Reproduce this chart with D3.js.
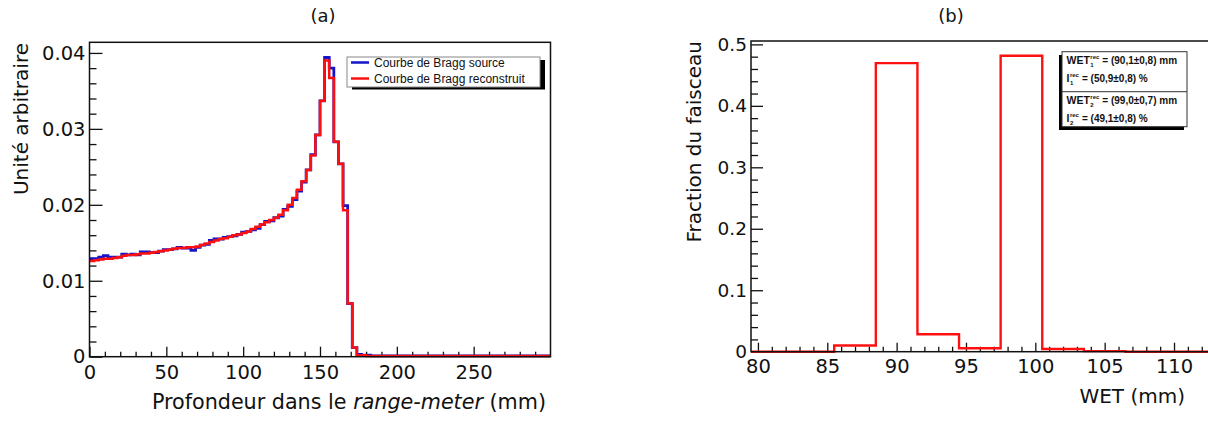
<!DOCTYPE html>
<html><head><meta charset="utf-8">
<script src="https://cdn.jsdelivr.net/npm/d3@7"></script>
<style>
body{margin:0;background:#fff;}
svg{display:block;font-family:"DejaVu Sans",sans-serif;}
text{white-space:pre;}
</style>
</head><body>
<svg id="c" width="1208" height="423"></svg>
<script>
// ---------- Data: panel (a) ----------
const depthBinStart = 0;      // mm
const depthBinWidth = 3;      // mm
const braggSource = [
 0.0129,0.0129,0.0131,0.0133,0.0131,0.0131,0.0131,0.0135,0.0134,0.0135,
 0.0134,0.0138,0.0138,0.0137,0.0137,0.0139,0.0141,0.0141,0.0142,0.0144,
 0.0143,0.0143,0.0140,0.0144,0.0147,0.0148,0.0153,0.0155,0.0155,0.0157,
 0.0158,0.0159,0.0161,0.0164,0.0165,0.0167,0.0169,0.0174,0.0178,0.0179,
 0.0183,0.0185,0.0194,0.0198,0.0207,0.0218,0.0230,0.0246,0.0266,0.0292,
 0.0337,0.0394,0.0380,0.0283,0.0254,0.0199,0.0070,0.0012,0.0003,0.0002,
 0.0002,0.0001,0.0001,0.0001,0.0001,0.0001,0.0001,0.0001,0.0001,0.0001,
 0.0001,0.0001,0.0001,0.0001,0.0001,0.0001,0.0001,0.0001,0.0001,0.0001,
 0.0001,0.0001,0.0001,0.0001,0.0001,0.0001,0.0001,0.0001,0.0001,0.0001,
 0.0001,0.0001,0.0001,0.0001,0.0001,0.0001,0.0001,0.0001,0.0001,0.0001
];
const braggReconstruit = [
 0.0126,0.0127,0.0128,0.0129,0.0129,0.0130,0.0131,0.0133,0.0134,0.0134,
 0.0135,0.0136,0.0136,0.0137,0.0138,0.0139,0.0140,0.0141,0.0142,0.0143,
 0.0143,0.0144,0.0144,0.0145,0.0147,0.0149,0.0151,0.0153,0.0155,0.0156,
 0.0158,0.0160,0.0161,0.0163,0.0165,0.0168,0.0171,0.0174,0.0177,0.0180,
 0.0183,0.0187,0.0193,0.0200,0.0209,0.0220,0.0231,0.0246,0.0265,0.0292,
 0.0337,0.0390,0.0367,0.0283,0.0254,0.0193,0.0070,0.0012,0.0002,0.0002,
 0.0001,0.0001,0.0001,0.0001,0.0001,0.0001,0.0001,0.0001,0.0001,0.0001,
 0.0001,0.0001,0.0001,0.0001,0.0001,0.0001,0.0001,0.0001,0.0001,0.0001,
 0.0001,0.0001,0.0001,0.0001,0.0001,0.0001,0.0001,0.0001,0.0001,0.0001,
 0.0001,0.0001,0.0001,0.0001,0.0001,0.0001,0.0001,0.0001,0.0001,0.0001
];
const xTicksA = [0,50,100,150,200,250];
const xMinorA = [10,20,30,40,60,70,80,90,110,120,130,140,160,170,180,190,210,220,230,240,260,270,280,290];
const yTicksA = [0,0.01,0.02,0.03,0.04];
const yTickLabelsA = ["0","0.01","0.02","0.03","0.04"];
const yMinorA = [0.002,0.004,0.006,0.008,0.012,0.014,0.016,0.018,0.022,0.024,0.026,0.028,0.032,0.034,0.036,0.038];
const legendA = ["Courbe de Bragg source","Courbe de Bragg reconstruit"];

// ---------- Data: panel (b) ----------
const wetBinStart = 79.5;   // mm
const wetBinWidth = 3;      // mm
const wetFraction = [0, 0, 0.0100, 0.4695, 0.0285, 0.0055, 0.4814, 0.0045, 0.0010, 0, 0, 0];
const xTicksB = [80,85,90,95,100,105,110];
const xMinorB = [81,82,83,84,86,87,88,89,91,92,93,94,96,97,98,99,101,102,103,104,106,107,108,109,111,112,113,114];
const yTicksB = [0,0.1,0.2,0.3,0.4,0.5];
const yTickLabelsB = ["0","0.1","0.2","0.3","0.4","0.5"];
const yMinorB = [0.02,0.04,0.06,0.08,0.12,0.14,0.16,0.18,0.22,0.24,0.26,0.28,0.32,0.34,0.36,0.38,0.42,0.44,0.46,0.48];

const svg = d3.select("#c");
svg.append("rect").attr("width",1208).attr("height",423).attr("fill","#fff");

function stepPoints(start, width, vals){
  const pts = vals.map((v,i)=>[start + i*width, v]);
  pts.push([start + vals.length*width, vals[vals.length-1]]);
  return pts;
}

function axes(g, x, y, o){
  const xa = g.append("g").attr("transform",`translate(0,${y.range()[0]})`)
    .call(d3.axisBottom(x).tickValues(o.xTicks).tickSizeInner(-o.xMaj).tickSizeOuter(0).tickPadding(o.xPad).tickFormat(d3.format("d")));
  const xm = g.append("g").attr("transform",`translate(0,${y.range()[0]})`)
    .call(d3.axisBottom(x).tickValues(o.xMinor).tickSizeInner(-o.xMin).tickSizeOuter(0).tickFormat(""));
  const ya = g.append("g").attr("transform",`translate(${x.range()[0]},0)`)
    .call(d3.axisLeft(y).tickValues(o.yTicks).tickSizeInner(-o.yMaj).tickSizeOuter(0).tickPadding(o.yPad).tickFormat((d,i)=>o.yLabels[i]));
  const ym = g.append("g").attr("transform",`translate(${x.range()[0]},0)`)
    .call(d3.axisLeft(y).tickValues(o.yMinor).tickSizeInner(-o.yMin).tickSizeOuter(0).tickFormat(""));
  [xa,xm,ya,ym].forEach(a=>{
    a.select(".domain").remove();
    a.selectAll("line").attr("stroke","#111").attr("stroke-width",1.3);
    a.selectAll("text").attr("font-family","DejaVu Sans").attr("fill","#111");
  });
  xa.selectAll("text").attr("font-size",o.xFont);
  ya.selectAll("text").attr("font-size",o.yFont);
}

// ================= Panel (a) =================
const xA = d3.scaleLinear().domain([0,300]).range([89.5,550.5]);
const yA = d3.scaleLinear().domain([0,0.0414]).range([356.7,42.3]);
const gA = svg.append("g");

axes(gA, xA, yA, {xTicks:xTicksA, xMinor:xMinorA, yTicks:yTicksA, yLabels:yTickLabelsA, yMinor:yMinorA,
  xMaj:10, xMin:5, yMaj:13, yMin:7, xPad:8, yPad:4, xFont:19.5, yFont:19.5});

const lineA = d3.line().x(d=>xA(d[0])).y(d=>yA(d[1])).curve(d3.curveStepAfter);
gA.append("path").attr("d", lineA(stepPoints(depthBinStart, depthBinWidth, braggSource)))
  .attr("fill","none").attr("stroke","#1414c8").attr("stroke-width",2.8);
gA.append("path").attr("d", lineA(stepPoints(depthBinStart, depthBinWidth, braggReconstruit)))
  .attr("fill","none").attr("stroke","#ff1010").attr("stroke-width",2.5);

gA.append("rect").attr("x",xA.range()[0]).attr("y",yA.range()[1])
  .attr("width",xA.range()[1]-xA.range()[0]).attr("height",yA.range()[0]-yA.range()[1])
  .attr("fill","none").attr("stroke","#111").attr("stroke-width",1.5);

// legend (a)
const lgA = gA.append("g");
lgA.append("rect").attr("x",352).attr("y",60).attr("width",193).attr("height",29.5).attr("fill","#000");
lgA.append("rect").attr("x",347).attr("y",57).attr("width",193).attr("height",30).attr("fill","#fff").attr("stroke","#888").attr("stroke-width",1);
const legCol = ["#1414c8","#ff1010"];
legendA.forEach((t,i)=>{
  const yy = 62.5 + i*16;
  lgA.append("line").attr("x1",351).attr("x2",369).attr("y1",yy).attr("y2",yy).attr("stroke",legCol[i]).attr("stroke-width",2.5);
  lgA.append("text").attr("x",374).attr("y",yy+4.3).attr("font-family","Liberation Sans, Arial, sans-serif")
    .attr("font-size",12).attr("fill","#111").text(t);
});

// titles (a)
svg.append("text").attr("x",323).attr("y",22).attr("text-anchor","middle").attr("font-size",18).attr("fill","#111").text("(a)");
svg.append("text").attr("transform","translate(28,43) rotate(-90)").attr("text-anchor","end").attr("font-size",20).attr("fill","#111").text("Unité arbitraire");
const xtA = svg.append("text").attr("x",546).attr("y",409).attr("text-anchor","end").attr("font-size",20.7).attr("fill","#111");
xtA.append("tspan").text("Profondeur dans le ");
xtA.append("tspan").attr("font-style","italic").text("range-meter");
xtA.append("tspan").text(" (mm)");

// ================= Panel (b) =================
const xB = d3.scaleLinear().domain([79.5,115.5]).range([751,1250.3]);
const yB = d3.scaleLinear().domain([0,0.5055]).range([351.7,41]);
const gB = svg.append("g");

axes(gB, xB, yB, {xTicks:xTicksB, xMinor:xMinorB, yTicks:yTicksB, yLabels:yTickLabelsB, yMinor:yMinorB,
  xMaj:9, xMin:5, yMaj:12, yMin:7, xPad:7.5, yPad:4, xFont:19.5, yFont:18.5});

const lineB = d3.line().x(d=>xB(d[0])).y(d=>yB(d[1])).curve(d3.curveStepAfter);
gB.append("path").attr("d", lineB(stepPoints(wetBinStart, wetBinWidth, wetFraction)))
  .attr("fill","none").attr("stroke","#ff1010").attr("stroke-width",2.4);

gB.append("rect").attr("x",xB.range()[0]).attr("y",yB.range()[1])
  .attr("width",xB.range()[1]-xB.range()[0]).attr("height",yB.range()[0]-yB.range()[1])
  .attr("fill","none").attr("stroke","#111").attr("stroke-width",1.5);

// legend (b)
const lgB = gB.append("g");
lgB.append("rect").attr("x",1059).attr("y",55).attr("width",125).attr("height",75).attr("fill","#000");
lgB.append("rect").attr("x",1062).attr("y",51.7).attr("width",125).attr("height",75).attr("fill","#fff").attr("stroke","#333").attr("stroke-width",1);
lgB.append("line").attr("x1",1062).attr("x2",1187).attr("y1",91.7).attr("y2",91.7).attr("stroke","#333").attr("stroke-width",1);

const statLines = [
  {base:"WET", sub:"1", rest:"= (90,1±0,8) mm", y:64},
  {base:"I",   sub:"1", rest:"= (50,9±0,8) %",  y:82},
  {base:"WET", sub:"2", rest:"= (99,0±0,7) mm", y:104.3},
  {base:"I",   sub:"2", rest:"= (49,1±0,8) %",  y:122}
];
statLines.forEach(s=>{
  const fam = "Liberation Sans, Arial, sans-serif";
  const t1 = lgB.append("text").attr("x",1066.5).attr("y",s.y).attr("font-family",fam).attr("font-weight","bold").attr("font-size",10.5).attr("fill","#111").text(s.base);
  const w = t1.node().getComputedTextLength();
  const sx = 1066.5 + w + 0.5;
  const sup = lgB.append("text").attr("x",sx).attr("y",s.y-5).attr("font-family",fam).attr("font-weight","bold").attr("font-size",6).attr("fill","#111").text("rec");
  lgB.append("text").attr("x",sx).attr("y",s.y+3).attr("font-family",fam).attr("font-weight","bold").attr("font-size",6).attr("fill","#111").text(s.sub);
  const ws = sup.node().getComputedTextLength();
  lgB.append("text").attr("x",sx+ws+3).attr("y",s.y).attr("font-family",fam).attr("font-weight","bold").attr("font-size",10).attr("fill","#111").text(s.rest);
});

// titles (b)
svg.append("text").attr("x",951).attr("y",22).attr("text-anchor","middle").attr("font-size",18).attr("fill","#111").text("(b)");
svg.append("text").attr("transform","translate(701,41) rotate(-90)").attr("text-anchor","end").attr("font-size",20).attr("fill","#111").text("Fraction du faisceau");
svg.append("text").attr("x",1185).attr("y",403).attr("text-anchor","end").attr("font-size",20).attr("fill","#111").text("WET (mm)");
</script>
</body></html>
